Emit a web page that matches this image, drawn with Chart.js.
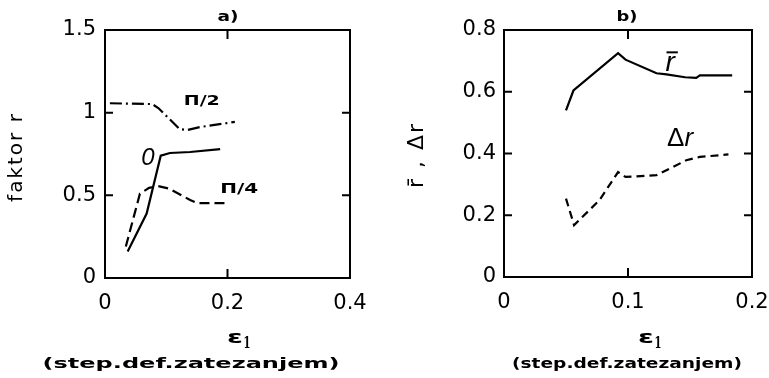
<!DOCTYPE html>
<html>
<head>
<meta charset="utf-8">
<script src="https://cdn.jsdelivr.net/npm/chart.js@4.4.1/dist/chart.umd.min.js"></script>
<style>
  body { margin: 0; background: #fff; }
  canvas { position: absolute; top: 0; }
</style>
</head>
<body>
<canvas id="chartA" width="384" height="378" style="left:0"></canvas>
<canvas id="chartB" width="385" height="378" style="left:384px"></canvas>
<script>
// a) faktor r za pravce 0, pi/4, pi/2
const e0 = [0.037, 0.068, 0.091, 0.106, 0.139, 0.188];
const r0 = [0.16, 0.39, 0.74, 0.756, 0.762, 0.78];
const e45 = [0.034, 0.057, 0.072, 0.087, 0.105, 0.139, 0.150, 0.196];
const r45 = [0.19, 0.51, 0.545, 0.556, 0.54, 0.472, 0.453, 0.453];
const e90 = [0.008, 0.077, 0.087, 0.122, 0.134, 0.155, 0.212];
const r90 = [1.057, 1.052, 1.028, 0.90, 0.895, 0.913, 0.944];

// b) srednja vrednost i planarna anizotropija
const eMean = [0.050, 0.056, 0.092, 0.098, 0.123, 0.131, 0.146, 0.155, 0.158, 0.184];
const rMean = [0.54, 0.604, 0.725, 0.704, 0.66, 0.656, 0.647, 0.645, 0.653, 0.653];
const eDelta = [0.050, 0.0565, 0.077, 0.092, 0.098, 0.123, 0.147, 0.158, 0.181];
const rDelta = [0.254, 0.168, 0.249, 0.34, 0.324, 0.33, 0.378, 0.389, 0.397];

const xTicksA = [0, 0.4, 0.2];   // min, max, step
const yTicksA = [0, 1.5, 0.5];
const xTicksB = [0, 0.2, 0.1];
const yTicksB = [0, 0.8, 0.2];

function pts(xs, ys) {
  return xs.map((x, i) => ({ x: x, y: ys[i] }));
}

function line(data, dash) {
  return {
    data: data, showLine: true, pointRadius: 0, borderColor: '#000',
    borderWidth: 2.2, borderDash: dash, tension: 0, fill: false
  };
}

function wideText(ctx, text, cx, cy, font, width) {
  ctx.save();
  ctx.font = font;
  const w = ctx.measureText(text).width;
  ctx.translate(cx, cy);
  if (width) ctx.scale(width / w, 1);
  ctx.textAlign = 'center';
  ctx.textBaseline = 'middle';
  ctx.fillText(text, 0, 0);
  ctx.restore();
}

const frame = {
  id: 'frame',
  afterDraw(chart, args, o) {
    const { ctx, chartArea: a } = chart;
    const x = chart.scales.x, y = chart.scales.y;
    ctx.save();
    ctx.strokeStyle = '#000';
    ctx.fillStyle = '#000';
    ctx.lineWidth = 2;
    ctx.strokeRect(a.left, a.top, a.right - a.left, a.bottom - a.top);
    // ticks pointing inward, on all four sides
    ctx.beginPath();
    x.ticks.forEach(t => {
      if (Math.abs(t.value - x.min) < 1e-9 || Math.abs(t.value - x.max) < 1e-9) return;
      const px = x.getPixelForValue(t.value);
      ctx.moveTo(px, a.top); ctx.lineTo(px, a.top + 9);
      ctx.moveTo(px, a.bottom); ctx.lineTo(px, a.bottom - 9);
    });
    y.ticks.forEach(t => {
      if (Math.abs(t.value - y.min) < 1e-9 || Math.abs(t.value - y.max) < 1e-9) return;
      const py = y.getPixelForValue(t.value);
      ctx.moveTo(a.left, py); ctx.lineTo(a.left + 8, py);
      ctx.moveTo(a.right, py); ctx.lineTo(a.right - 8, py);
    });
    ctx.stroke();

    wideText(ctx, o.title, o.titleX, 17, 'bold 14px "DejaVu Sans"', 21);
    wideText(ctx, '(step.def.zatezanjem)', o.subX, 364, 'bold 14px "DejaVu Sans"', o.subW);
    wideText(ctx, 'ε', o.epsX, 338, 'bold 18px "DejaVu Sans"', 16);
    wideText(ctx, '1', o.epsX + 12, 344, 'bold 16px "DejaVu Serif"', 7);

    // y axis title
    ctx.save();
    ctx.translate(o.yTitleX, o.yTitleY);
    ctx.rotate(-Math.PI / 2);
    ctx.font = o.yTitleFont;
    ctx.letterSpacing = '2px';
    ctx.textAlign = 'center';
    ctx.textBaseline = 'middle';
    ctx.fillText(o.yTitle, 0, 0);
    ctx.restore();

    // curve labels
    o.labels.forEach(l => {
      const cx = x.getPixelForValue(l.x), cy = y.getPixelForValue(l.y);
      let total = 0;
      l.parts.forEach(p => { ctx.font = p.font; p.w = ctx.measureText(p.t).width; total += p.w; });
      const k = l.width ? l.width / total : 1;
      ctx.save();
      ctx.translate(cx, cy);
      ctx.scale(k, 1);
      ctx.textBaseline = 'middle';
      ctx.textAlign = 'left';
      let px = -total / 2;
      l.parts.forEach(p => { ctx.font = p.font; ctx.fillText(p.t, px, 0); px += p.w; });
      if (l.bar) {
        ctx.lineWidth = 2;
        ctx.beginPath();
        ctx.moveTo(-total / 2 + 1, -11);
        ctx.lineTo(total / 2 + 3, -11);
        ctx.stroke();
      }
      ctx.restore();
    });
    ctx.restore();
  }
};

function axes(xt, yt, yWidth, xHeight, yPad) {
  const tickFont = { family: 'DejaVu Sans', size: 21 };
  const fmt = v => String(+v.toFixed(2));
  return {
    x: {
      type: 'linear', min: xt[0], max: xt[1],
      ticks: { stepSize: xt[2], font: tickFont, color: '#000', padding: 13, maxRotation: 0, callback: fmt },
      grid: { display: false, drawTicks: false }, border: { display: false },
      afterFit: s => { s.height = xHeight; s.paddingLeft = 0; s.paddingRight = 0; }
    },
    y: {
      type: 'linear', min: yt[0], max: yt[1],
      ticks: { stepSize: yt[2], font: tickFont, color: '#000', padding: yPad, callback: fmt },
      grid: { display: false, drawTicks: false }, border: { display: false },
      afterFit: s => { s.width = yWidth; s.paddingTop = 0; s.paddingBottom = 0; }
    }
  };
}

function makeChart(id, datasets, scales, padRight, extras) {
  return new Chart(document.getElementById(id), {
    type: 'scatter',
    data: { datasets: datasets },
    options: {
      responsive: false, animation: false, devicePixelRatio: 1, events: [],
      layout: { padding: { left: 0, top: 30, right: padRight, bottom: 0 } },
      scales: scales,
      plugins: { legend: { display: false }, tooltip: { enabled: false }, frame: extras }
    },
    plugins: [frame]
  });
}

const labelBold = 'bold 14px "DejaVu Sans"';

makeChart('chartA', [
  line(pts(e0, r0), []),
  line(pts(e45, r45), [10, 5]),
  line(pts(e90, r90), [12, 4, 2, 4])
], axes(xTicksA, yTicksA, 105, 100, 9), 34, {
  title: 'a)', titleX: 228, subX: 191, subW: 297, epsX: 235,
  yTitle: 'faktor r', yTitleX: 17, yTitleY: 157, yTitleFont: '20px "DejaVu Sans"',
  labels: [
    { x: 0.158, y: 1.07, parts: [{ t: 'Π/2', font: labelBold }], width: 36 },
    { x: 0.219, y: 0.538, parts: [{ t: 'Π/4', font: labelBold }], width: 38 },
    { x: 0.070, y: 0.726, parts: [{ t: '0', font: 'italic 24px "Liberation Sans"' }] }
  ]
});

makeChart('chartB', [
  line(pts(eMean, rMean), []),
  line(pts(eDelta, rDelta), [8, 5])
], axes(xTicksB, yTicksB, 120, 101, 8), 17, {
  title: 'b)', titleX: 243, subX: 243, subW: 230, epsX: 262,
  yTitle: 'r̄ , Δr', yTitleX: 33, yTitleY: 155, yTitleFont: '22px "DejaVu Sans"',
  labels: [
    { x: 0.134, y: 0.692, parts: [{ t: 'r', font: 'italic 28px "Liberation Sans"' }], bar: true },
    { x: 0.142, y: 0.448, parts: [{ t: 'Δ', font: '26px "Liberation Sans"' }, { t: 'r', font: 'italic 26px "Liberation Sans"' }] }
  ]
});
</script>
</body>
</html>
